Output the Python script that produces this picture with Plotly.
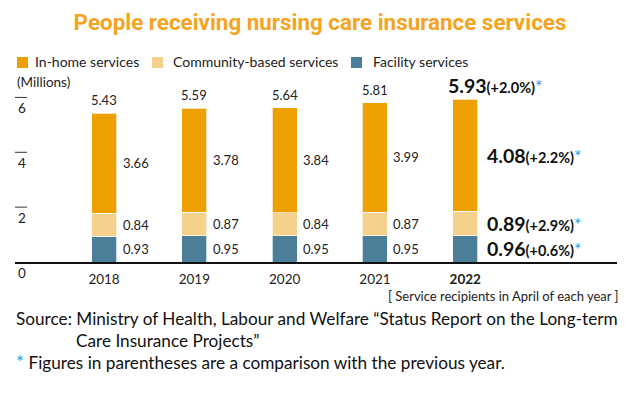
import plotly.graph_objects as go

years = ["2018", "2019", "2020", "2021", "2022"]
facility = [0.93, 0.95, 0.95, 0.95, 0.96]
community = [0.84, 0.87, 0.84, 0.87, 0.89]
inhome = [3.66, 3.78, 3.84, 3.99, 4.08]
totals = [5.43, 5.59, 5.64, 5.81, 5.93]
chg_total = "+2.0%"
chg_inhome = "+2.2%"
chg_community = "+2.9%"
chg_facility = "+0.6%"
yticks = [0, 2, 4, 6]

C_IN = "#EEA000"
C_CO = "#F6D18C"
C_FA = "#4B7F99"
C_STAR = "#2E9BE0"
FONT = "Lato"

W, H = 642, 393
L, R, T, B = 15, 25, 70, 131
PW, PH = W - L - R, H - T - B


def px(x):
    return (x - L) / PW


def py(y):
    return (H - B - y) / PH


xs = list(range(len(years)))
fig = go.Figure()
bw = 0.277
line = dict(color="rgba(255,255,255,0.7)", width=1)
fig.add_bar(x=xs, y=facility, marker=dict(color=C_FA, line=line), width=bw, name="Facility services", showlegend=False)
fig.add_bar(x=xs, y=community, marker=dict(color=C_CO, line=line), width=bw, name="Community-based services", showlegend=False)
fig.add_bar(x=xs, y=inhome, marker=dict(color=C_IN, line=line), width=bw, name="In-home services", showlegend=False)

ann = []
shapes = []
lab = dict(family=FONT, size=13, color="#222")
star = f"<span style='color:{C_STAR};font-size:18px'>*</span>"
for i in xs:
    mids = [facility[i] / 2, facility[i] + community[i] / 2, facility[i] + community[i] + inhome[i] / 2]
    vals = [facility[i], community[i], inhome[i]]
    if i < len(years) - 1:
        for m, v in zip(mids, vals):
            ann.append(dict(x=i + bw / 2, y=m, text=f"{v:.2f}", showarrow=False, xanchor="left",
                            yanchor="middle", xshift=4, font=lab))
        ann.append(dict(x=i, y=facility[i] + community[i] + inhome[i], text=f"{totals[i]:.2f}", showarrow=False,
                        xanchor="center", yanchor="bottom", yshift=3, font=lab))
    else:
        chgs = [chg_facility, chg_community, chg_inhome]
        for m, v, c in zip(mids, vals, chgs):
            ann.append(dict(x=i + bw / 2, y=m, showarrow=False, xanchor="left", yanchor="middle", xshift=7,
                            text=f"<b>{v:.2f}</b><b><span style='font-size:14.5px'>({c})</span></b>{star}",
                            font=dict(family=FONT, size=19.5, color="#111")))
        ann.append(dict(x=i, y=facility[i] + community[i] + inhome[i], showarrow=False, xanchor="left",
                        yanchor="bottom", xshift=-19, yshift=0,
                        text=f"<b>{totals[i]:.2f}</b><b><span style='font-size:14.5px'>({chg_total})</span></b>{star}",
                        font=dict(family=FONT, size=19.5, color="#111")))

# y ticks (custom)
for t in yticks:
    if t > 0:
        shapes.append(dict(type="line", xref="paper", yref="y", x0=0, x1=px(27), y0=t, y1=t,
                           line=dict(color="#333", width=1)))
    ann.append(dict(xref="paper", yref="y", x=0, y=t, text=str(t), showarrow=False, xanchor="left",
                    yanchor="middle", yshift=-11, xshift=1, font=dict(family=FONT, size=13.5, color="#222")))
ann.append(dict(xref="paper", yref="paper", x=0, y=py(82), text="(Millions)", showarrow=False, xanchor="left",
                yanchor="middle", font=dict(family=FONT, size=13.5, color="#222")))

# legend (manual)
leg = [("In-home services", C_IN, 17, 33), ("Community-based services", C_CO, 152, 171), ("Facility services", C_FA, 351, 371)]
for name, col, sx, tx in leg:
    shapes.append(dict(type="rect", xref="paper", yref="paper", x0=px(sx), x1=px(sx + 11), y0=py(57), y1=py(68),
                       fillcolor=col, line=dict(width=0)))
    ann.append(dict(xref="paper", yref="paper", x=px(tx), y=py(62), text=name, showarrow=False, xanchor="left",
                    yanchor="middle", font=dict(family=FONT, size=14, color="#222")))

# footer
ann.append(dict(xref="paper", yref="paper", x=px(621), y=py(296), text="[ Service recipients in April of each year ]",
                showarrow=False, xanchor="right", yanchor="middle", font=dict(family=FONT, size=13, color="#222")))
ann.append(dict(xref="paper", yref="paper", x=px(14), y=py(318),
                text="Source: Ministry of Health, Labour and Welfare “Status Report on the Long-term",
                showarrow=False, xanchor="left", yanchor="middle", font=dict(family=FONT, size=17.2, color="#111")))
ann.append(dict(xref="paper", yref="paper", x=px(74), y=py(340), text="Care Insurance Projects”",
                showarrow=False, xanchor="left", yanchor="middle", font=dict(family=FONT, size=17.2, color="#111")))
ann.append(dict(xref="paper", yref="paper", x=px(14), y=py(361),
                text=f"<span style='color:{C_STAR};font-size:19px'>*</span> Figures in parentheses are a comparison with the previous year.",
                showarrow=False, xanchor="left", yanchor="middle", font=dict(family=FONT, size=17.2, color="#111")))

fig.update_layout(
    barmode="stack",
    width=W, height=H,
    margin=dict(l=L, r=R, t=T, b=B, pad=0),
    plot_bgcolor="white", paper_bgcolor="white",
    title=dict(text="<b>People receiving nursing care insurance services</b>", x=320 / W,
               xref="container", xanchor="center", y=1 - 22 / H, yanchor="middle", yref="container",
               font=dict(family="Roboto", size=22.4, color="#F4A420")),
    xaxis=dict(range=[-0.986, 5.68], tickvals=xs,
               ticktext=[y if y != "2022" else f"<b>{y}</b>" for y in years],
               showline=True, linecolor="#111", linewidth=1.5, showgrid=False, zeroline=False, ticks="",
               tickfont=dict(family=FONT, size=13.5, color="#222"), ticklabelstandoff=4, fixedrange=True),
    yaxis=dict(range=[0, 7], visible=False, fixedrange=True),
    annotations=ann, shapes=shapes, showlegend=False,
)
fig.write_html("out.html", config={"displayModeBar": False},
               post_script="document.body.style.margin='0px';document.body.style.overflow='hidden';")
